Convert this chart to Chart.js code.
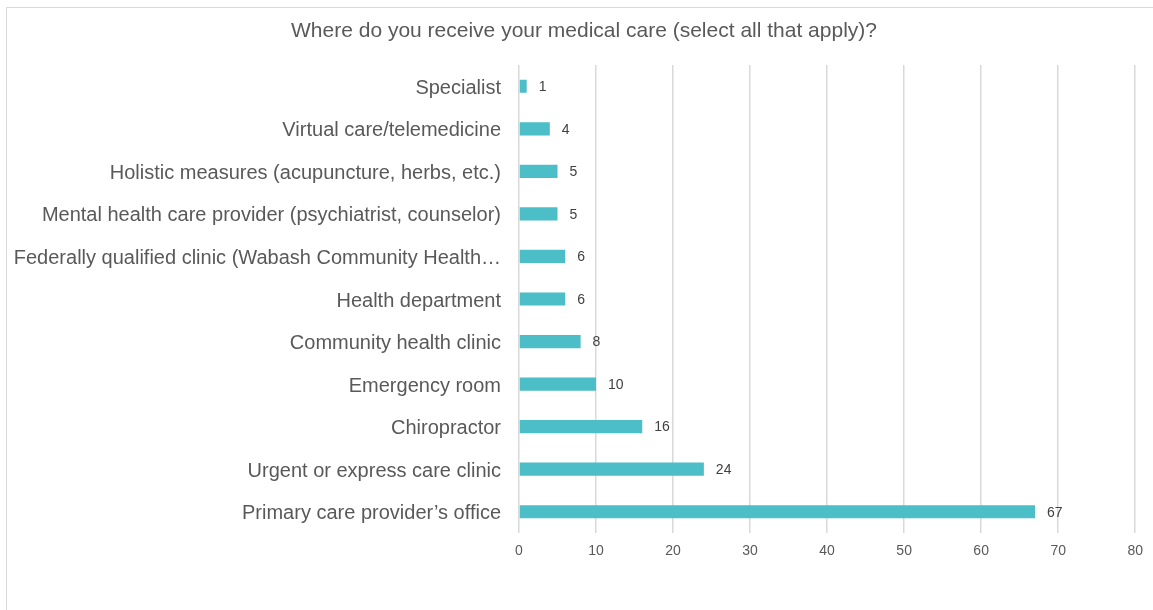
<!DOCTYPE html>
<html>
<head>
<meta charset="utf-8">
<script src="https://cdn.jsdelivr.net/npm/chart.js@4"></script>
<style>
html,body{margin:0;padding:0;background:#fff;}
#wrap{position:absolute;left:0;top:0;width:1153px;height:610px;}
#frame{position:absolute;left:6px;top:7px;width:1160px;height:620px;border-left:1px solid #d9d9d9;border-top:1px solid #d9d9d9;box-sizing:border-box;pointer-events:none;}
</style>
</head>
<body>
<div id="wrap"><canvas id="c" width="1153" height="610"></canvas><div id="frame"></div></div>
<script>
const titleText = "Where do you receive your medical care (select all that apply)?";
const categories = [
  "Specialist",
  "Virtual care/telemedicine",
  "Holistic measures (acupuncture, herbs, etc.)",
  "Mental health care provider (psychiatrist, counselor)",
  "Federally qualified clinic (Wabash Community Health…",
  "Health department",
  "Community health clinic",
  "Emergency room",
  "Chiropractor",
  "Urgent or express care clinic",
  "Primary care provider’s office"
];
const values = [1, 4, 5, 5, 6, 6, 8, 10, 16, 24, 67];
const xTicks = [0, 10, 20, 30, 40, 50, 60, 70, 80];

const FONT = "'Liberation Sans', Arial, sans-serif";

const valueLabels = {
  id: 'valueLabels',
  afterDatasetsDraw(chart) {
    const ctx = chart.ctx;
    const meta = chart.getDatasetMeta(0);
    ctx.save();
    ctx.font = "14px " + FONT;
    ctx.fillStyle = "#404040";
    ctx.textAlign = "left";
    ctx.textBaseline = "middle";
    meta.data.forEach((bar, i) => {
      ctx.fillText(String(values[i]), bar.x + 12, bar.y + 1);
    });
    ctx.restore();
  }
};

const titlePlugin = {
  id: 'titleText',
  afterDraw(chart) {
    const ctx = chart.ctx;
    ctx.save();
    ctx.font = "21px " + FONT;
    ctx.fillStyle = "#595959";
    ctx.textAlign = "center";
    ctx.textBaseline = "middle";
    ctx.fillText(titleText, 584, 31);
    ctx.restore();
  }
};

new Chart(document.getElementById('c'), {
  type: 'bar',
  data: {
    labels: categories,
    datasets: [{
      data: values,
      backgroundColor: '#4BBEC7',
      borderWidth: 0,
      barPercentage: 0.62,
      categoryPercentage: 0.5
    }]
  },
  options: {
    indexAxis: 'y',
    responsive: false,
    animation: false,
    events: [],
    layout: { padding: { left: 6, right: 12, top: 65, bottom: 0 } },
    plugins: {
      legend: { display: false },
      tooltip: { enabled: false },
      title: { display: false }
    },
    scales: {
      x: {
        min: 0, max: 80,
        afterBuildTicks(scale) { scale.ticks = xTicks.map(v => ({ value: v })); },
        afterFit(scale) { scale.height = 77; },
        grid: { color: '#d9d9d9', lineWidth: 1.5, drawTicks: false },
        border: { display: false },
        ticks: { color: '#595959', font: { family: FONT, size: 14 }, padding: 10 }
      },
      y: {
        afterFit(scale) { scale.width = 513; },
        grid: { display: false, drawTicks: false },
        border: { display: false },
        ticks: { color: '#595959', font: { family: FONT, size: 20 }, padding: 18, autoSkip: false, labelOffset: 2 }
      }
    }
  },
  plugins: [valueLabels, titlePlugin]
});
</script>
</body>
</html>
